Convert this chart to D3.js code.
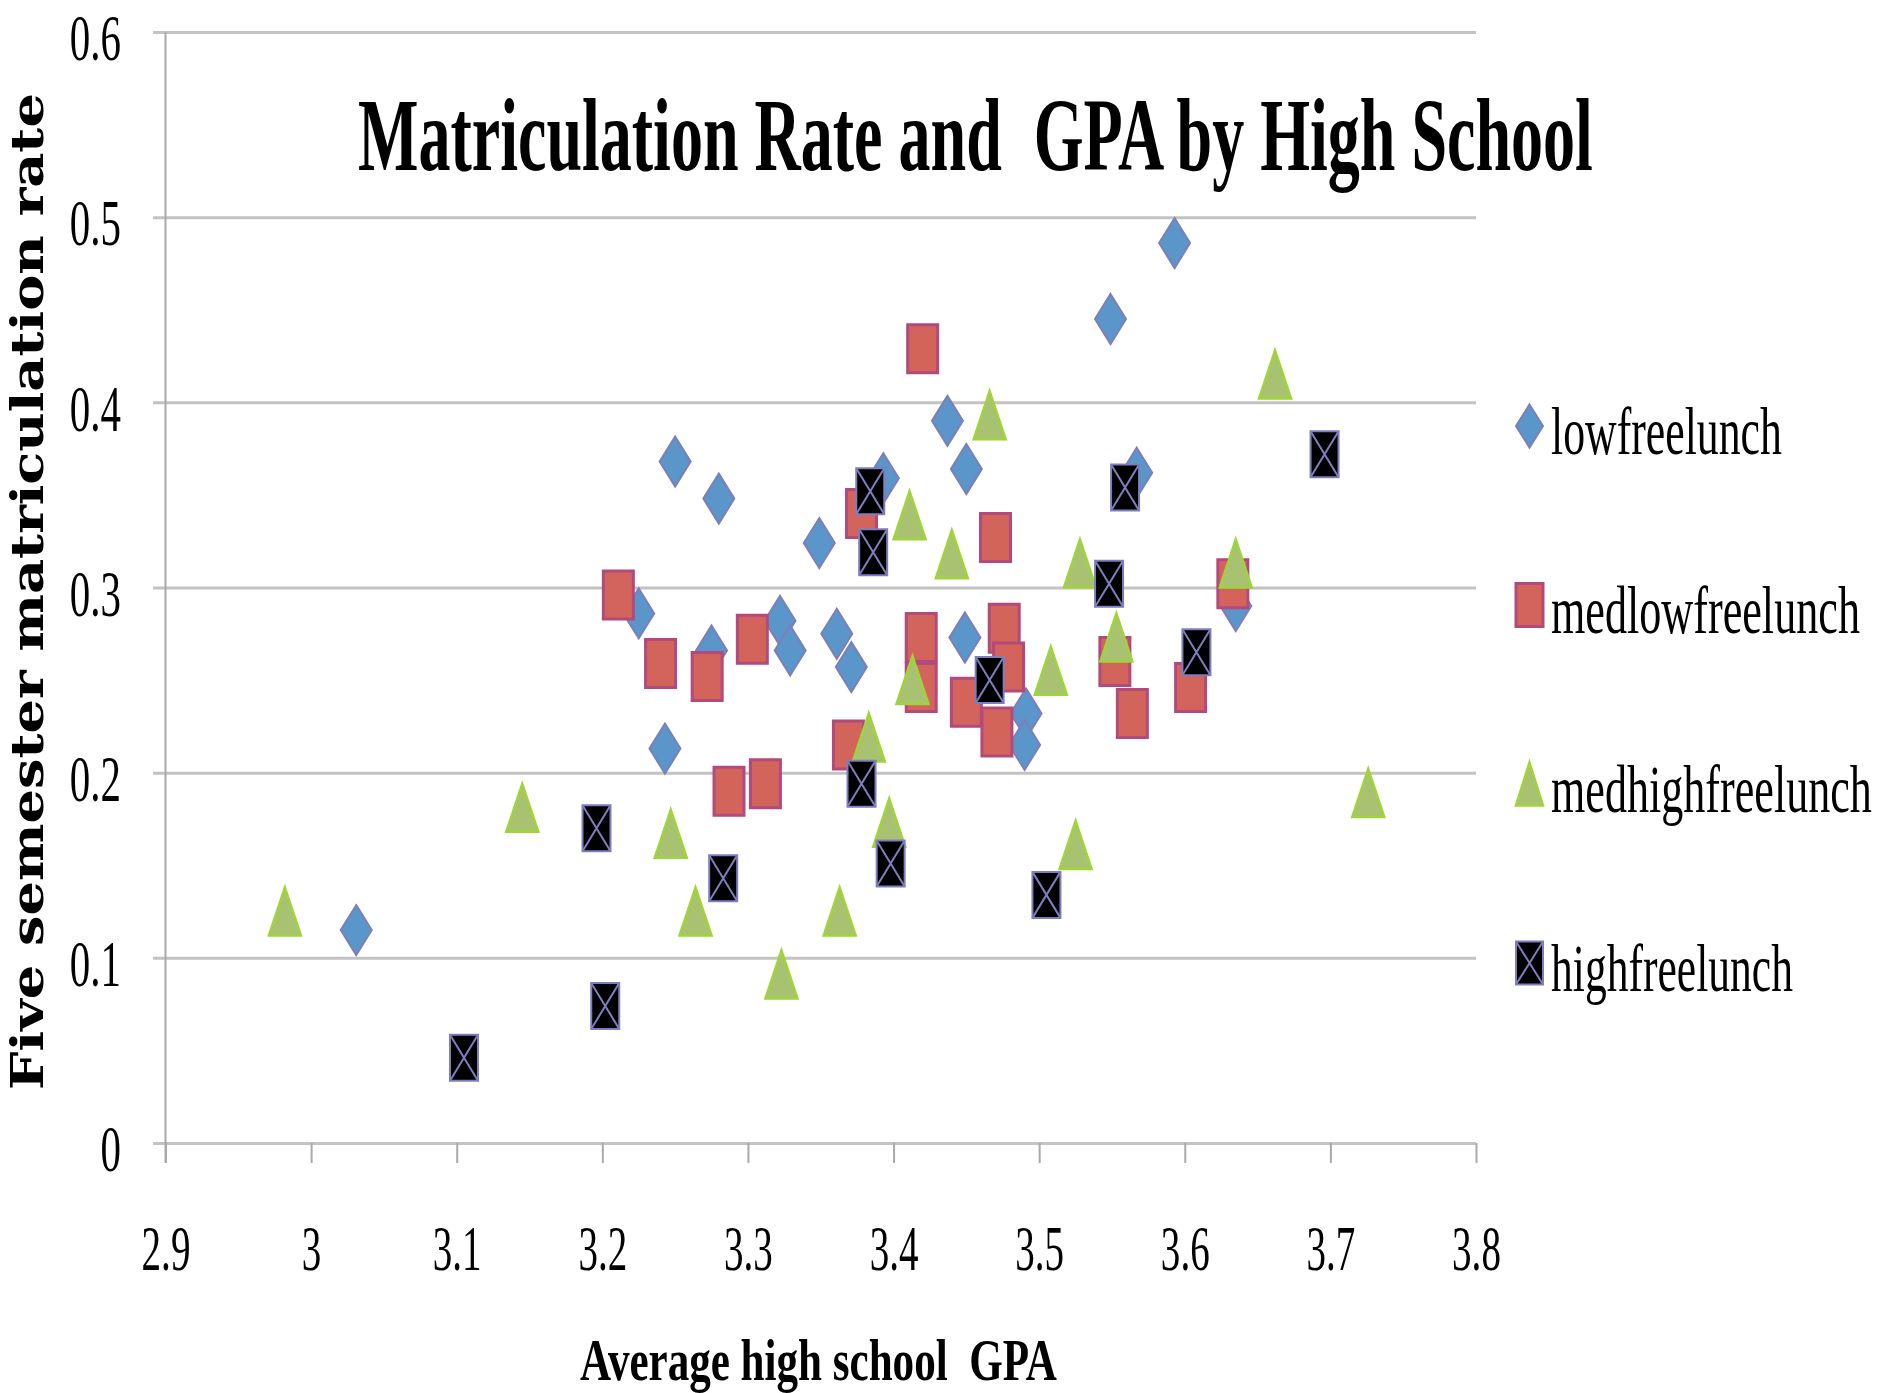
<!DOCTYPE html>
<html>
<head>
<meta charset="utf-8">
<script src="https://cdn.jsdelivr.net/npm/d3@7"></script>
<style>
  html, body { margin: 0; padding: 0; background: #ffffff; }
  svg { display: block; }
</style>
</head>
<body>
<script>
// ---------------- DATA ----------------
const chartTitle = "Matriculation Rate and  GPA by High School";
const xTitle = "Average high school  GPA";
const yTitle = "Five semester matriculation rate";
const xTicks = [2.9, 3.0, 3.1, 3.2, 3.3, 3.4, 3.5, 3.6, 3.7, 3.8];
const yTicks = [0, 0.1, 0.2, 0.3, 0.4, 0.5, 0.6];
const seriesNames = ["lowfreelunch", "medlowfreelunch", "medhighfreelunch", "highfreelunch"];

// [average GPA, five-semester matriculation rate]
const lowfreelunch = [
  [3.031, 0.115], [3.225, 0.286], [3.243, 0.213], [3.250, 0.368], [3.275, 0.266],
  [3.280, 0.348], [3.322, 0.282], [3.329, 0.266], [3.349, 0.324], [3.361, 0.275],
  [3.371, 0.257], [3.393, 0.359], [3.437, 0.390], [3.450, 0.364], [3.449, 0.273],
  [3.491, 0.232], [3.490, 0.215], [3.549, 0.445], [3.567, 0.362], [3.593, 0.486],
  [3.635, 0.290]
];
const medlowfreelunch = [
  [3.211, 0.296], [3.240, 0.259], [3.272, 0.252], [3.287, 0.190], [3.303, 0.272],
  [3.312, 0.194], [3.369, 0.215], [3.378, 0.340], [3.420, 0.429], [3.419, 0.273],
  [3.419, 0.246], [3.450, 0.238], [3.470, 0.327], [3.471, 0.222], [3.476, 0.278],
  [3.479, 0.257], [3.552, 0.260], [3.564, 0.232], [3.604, 0.246], [3.633, 0.302]
];
const medhighfreelunch = [
  [2.982, 0.125], [3.145, 0.181], [3.247, 0.167], [3.264, 0.125], [3.323, 0.091],
  [3.363, 0.125], [3.383, 0.219], [3.397, 0.173], [3.411, 0.339], [3.413, 0.250],
  [3.440, 0.318], [3.466, 0.393], [3.508, 0.255], [3.525, 0.161], [3.528, 0.313],
  [3.553, 0.273], [3.635, 0.313], [3.662, 0.415], [3.726, 0.189]
];
const highfreelunch = [
  [3.105, 0.046], [3.196, 0.170], [3.202, 0.074], [3.283, 0.143], [3.378, 0.194],
  [3.384, 0.352], [3.386, 0.319], [3.398, 0.151], [3.466, 0.250], [3.505, 0.134],
  [3.548, 0.302], [3.559, 0.354], [3.608, 0.265], [3.696, 0.372]
];
const seriesData = [lowfreelunch, medlowfreelunch, medhighfreelunch, highfreelunch];

// ---------------- STYLE ----------------
const W = 1880, H = 1393;
const plot = { left: 165.5, right: 1476, top: 32, bottom: 1143 };
const squeeze = 0.62; // the source's condensed lettering

const styles = [
  { shape: "diamond",  w: 31, h: 50, fill: "#5a96c9", stroke: "#7c80b8", sw: 2 },
  { shape: "square",   w: 30, h: 48, fill: "#d3645c", stroke: "#b24a7c", sw: 3 },
  { shape: "triangle", w: 32, h: 48, fill: "#a9c271", stroke: "#9fd43a", sw: 2.5 },
  { shape: "xsquare",  w: 28, h: 46, fill: "#000000", stroke: "#7e7ebe", sw: 2 }
];

function shapePath(shape, w, h) {
  const a = w / 2, b = h / 2;
  if (shape === "diamond") return `M0,${-b}L${a},0L0,${b}L${-a},0Z`;
  if (shape === "triangle") return `M0,${-b}L${a},${b}L${-a},${b}Z`;
  return `M${-a},${-b}H${a}V${b}H${-a}Z`;
}
function drawMarker(g, st, w, h) {
  g.append("path").attr("d", shapePath(st.shape, w, h))
    .attr("fill", st.fill).attr("stroke", st.stroke)
    .attr("stroke-width", st.sw).attr("stroke-linejoin", "miter");
  if (st.shape === "xsquare") {
    g.append("path")
      .attr("d", `M${-w/2},${-h/2}L${w/2},${h/2}M${w/2},${-h/2}L${-w/2},${h/2}`)
      .attr("stroke", st.stroke).attr("stroke-width", 2).attr("fill", "none");
  }
}
// condense a text horizontally so its width equals target (geometry stays honest)
function fitText(sel, target, pre) {
  sel.attr("x", 0).attr("y", 0);
  const w = sel.node().getComputedTextLength();
  const s = target / w;
  sel.attr("transform", `${pre} scale(${s},1)`);
}

// ---------------- CHART ----------------
const svg = d3.select("body").append("svg").attr("width", W).attr("height", H);
svg.append("rect").attr("width", W).attr("height", H).attr("fill", "#ffffff");

const x = d3.scaleLinear().domain([2.9, 3.8]).range([plot.left, plot.right]);
const y = d3.scaleLinear().domain([0, 0.6]).range([plot.bottom, plot.top]);
const fmt = d => String(+d.toFixed(1));

// gridlines (also form the short left ticks)
const grid = svg.append("g").attr("transform", `translate(${plot.right},0)`)
  .call(d3.axisLeft(y).tickValues(yTicks).tickSize(plot.right - 153).tickFormat(""));
grid.select(".domain").remove();
grid.selectAll("line").attr("stroke", "#c3c3c3").attr("stroke-width", 3);
grid.selectAll("text").remove();

// vertical axis line
svg.append("line")
  .attr("x1", plot.left).attr("x2", plot.left)
  .attr("y1", y(0.6)).attr("y2", plot.bottom + 20)
  .attr("stroke", "#a9a9a9").attr("stroke-width", 2);

// y labels
const yAx = svg.append("g").attr("transform", `translate(${plot.left},0)`)
  .call(d3.axisLeft(y).tickValues(yTicks).tickSize(0).tickFormat(fmt));
yAx.select(".domain").remove();
yAx.selectAll("line").remove();
yAx.selectAll("text")
  .attr("font-family", "'Liberation Serif', serif")
  .attr("font-size", 66).attr("fill", "#000")
  .attr("text-anchor", "end")
  .attr("x", -44.5 / squeeze).attr("dy", "0.42em")
  .attr("transform", `scale(${squeeze},1)`);

// x ticks + labels
const xAx = svg.append("g").attr("transform", `translate(0,${plot.bottom})`)
  .call(d3.axisBottom(x).tickValues(xTicks).tickSize(20).tickFormat(fmt));
xAx.select(".domain").remove();
xAx.selectAll("line").attr("stroke", "#a9a9a9").attr("stroke-width", 2);
xAx.selectAll("text")
  .attr("font-family", "'Liberation Serif', serif")
  .attr("font-size", 63).attr("fill", "#000")
  .attr("text-anchor", "middle")
  .attr("y", 127).attr("dy", 0)
  .attr("transform", `scale(${squeeze},1)`);

// points
seriesData.forEach((data, i) => {
  const st = styles[i];
  const g = svg.append("g").attr("class", "series-" + seriesNames[i]);
  g.selectAll("g.pt").data(data).join("g").attr("class", "pt")
    .attr("transform", d => `translate(${x(d[0])},${y(d[1])})`)
    .each(function () { drawMarker(d3.select(this), st, st.w, st.h); });
});

// title
const tt = svg.append("text")
  .attr("font-family", "'Liberation Serif', serif").attr("font-weight", "bold")
  .attr("font-size", 103).attr("fill", "#000")
  .style("white-space", "pre")
  .text(chartTitle);
fitText(tt, 1235, "translate(358,170)");

// x title
const xt = svg.append("text")
  .attr("font-family", "'Liberation Serif', serif").attr("font-weight", "bold")
  .attr("font-size", 60).attr("fill", "#000")
  .style("white-space", "pre")
  .text(xTitle);
fitText(xt, 477, "translate(580,1380)");

// y title
const yt = svg.append("text")
  .attr("text-anchor", "middle")
  .attr("font-family", "'DejaVu Serif', serif").attr("font-weight", "bold")
  .attr("font-size", 45).attr("fill", "#000")
  .text(yTitle);
fitText(yt, 997, "translate(43,591.5) rotate(-90)");

// legend
const legendWidths = [231, 309, 321, 242];
const lg = svg.append("g");
seriesNames.forEach((name, i) => {
  const cy = 426 + i * 179;
  const mg = lg.append("g").attr("transform", `translate(1529.5,${cy})`);
  drawMarker(mg, styles[i], 27, 43);
  const t = lg.append("text")
    .attr("font-family", "'Liberation Serif', serif")
    .attr("font-size", 68).attr("fill", "#000")
    .text(name);
  fitText(t, legendWidths[i], `translate(1551,${cy + 28})`);
});
</script>
</body>
</html>
